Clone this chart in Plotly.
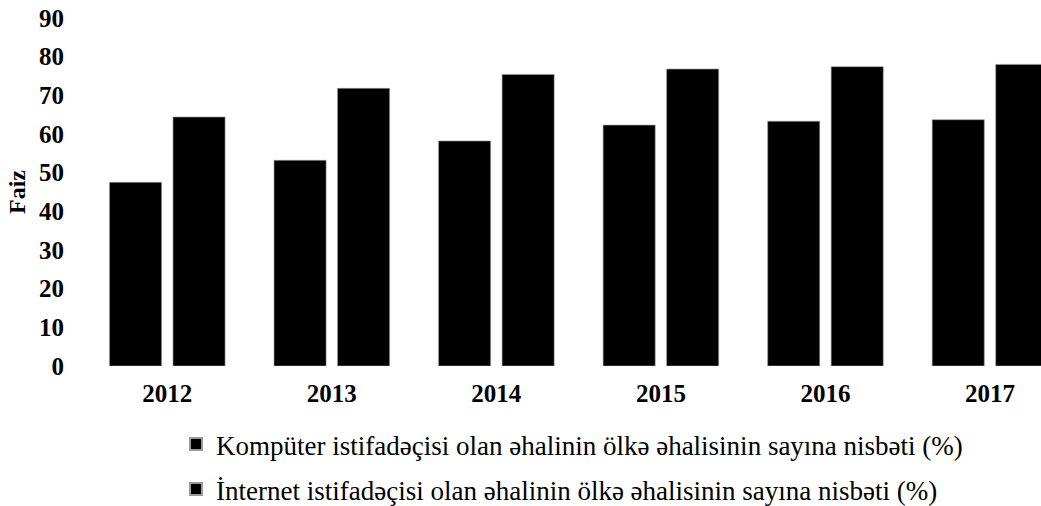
import plotly.graph_objects as go

years = ["2012", "2013", "2014", "2015", "2016", "2017"]
computer_users = [47.5, 53.2, 58.2, 62.3, 63.3, 63.7]
internet_users = [64.4, 71.8, 75.4, 76.8, 77.4, 78.0]
series_names = [
    "Kompüter istifadəçisi olan əhalinin ölkə əhalisinin sayına nisbəti (%)",
    "İnternet istifadəçisi olan əhalinin ölkə əhalisinin sayına nisbəti (%)",
]
y_ticks = [0, 10, 20, 30, 40, 50, 60, 70, 80, 90]

FONT = "Liberation Serif"

fig = go.Figure()
for i, (name, vals) in enumerate(zip(series_names, [computer_users, internet_users])):
    fig.add_trace(go.Bar(
        x=years, y=vals, name=name, legendgroup=f"g{i}",
        marker=dict(color="#000000", line=dict(color="#9a9a9a", width=0.6)),
    ))

fig.update_layout(
    width=1041, height=506,
    margin=dict(l=85, r=0, t=18, b=140, autoexpand=False),
    paper_bgcolor="white", plot_bgcolor="white",
    barmode="group", bargap=0.228, bargroupgap=0.18,
    font=dict(family=FONT, color="#000000"),
    showlegend=True,
    legend=dict(
        orientation="v", x=0.0952, xanchor="left", y=-0.155, yanchor="top",
        yref="paper", font=dict(family=FONT, size=27, color="#000000"),
        tracegroupgap=7, itemsizing="constant", bgcolor="rgba(0,0,0,0)",
    ),
)
fig.update_xaxes(
    type="category", range=[-0.5, 5.31], showline=False, showgrid=False,
    ticks="", automargin=False, ticklabelstandoff=10,
    tickfont=dict(family=FONT, size=25, color="#000000", weight="bold"),
)
fig.update_yaxes(
    range=[0, 90], tickvals=y_ticks, ticktext=[str(v) for v in y_ticks],
    showline=False, showgrid=False, zeroline=False, ticks="", ticklabelstandoff=20,
    automargin=False, ticklabeloverflow="allow",
    tickfont=dict(family=FONT, size=25, color="#000000", weight="bold"),
    title=dict(text="Faiz", font=dict(family=FONT, size=24, color="#000000", weight="bold"), standoff=6),
)

fig.write_html("out.html", config={"displayModeBar": False},
               post_script="document.body.style.margin='0';")
